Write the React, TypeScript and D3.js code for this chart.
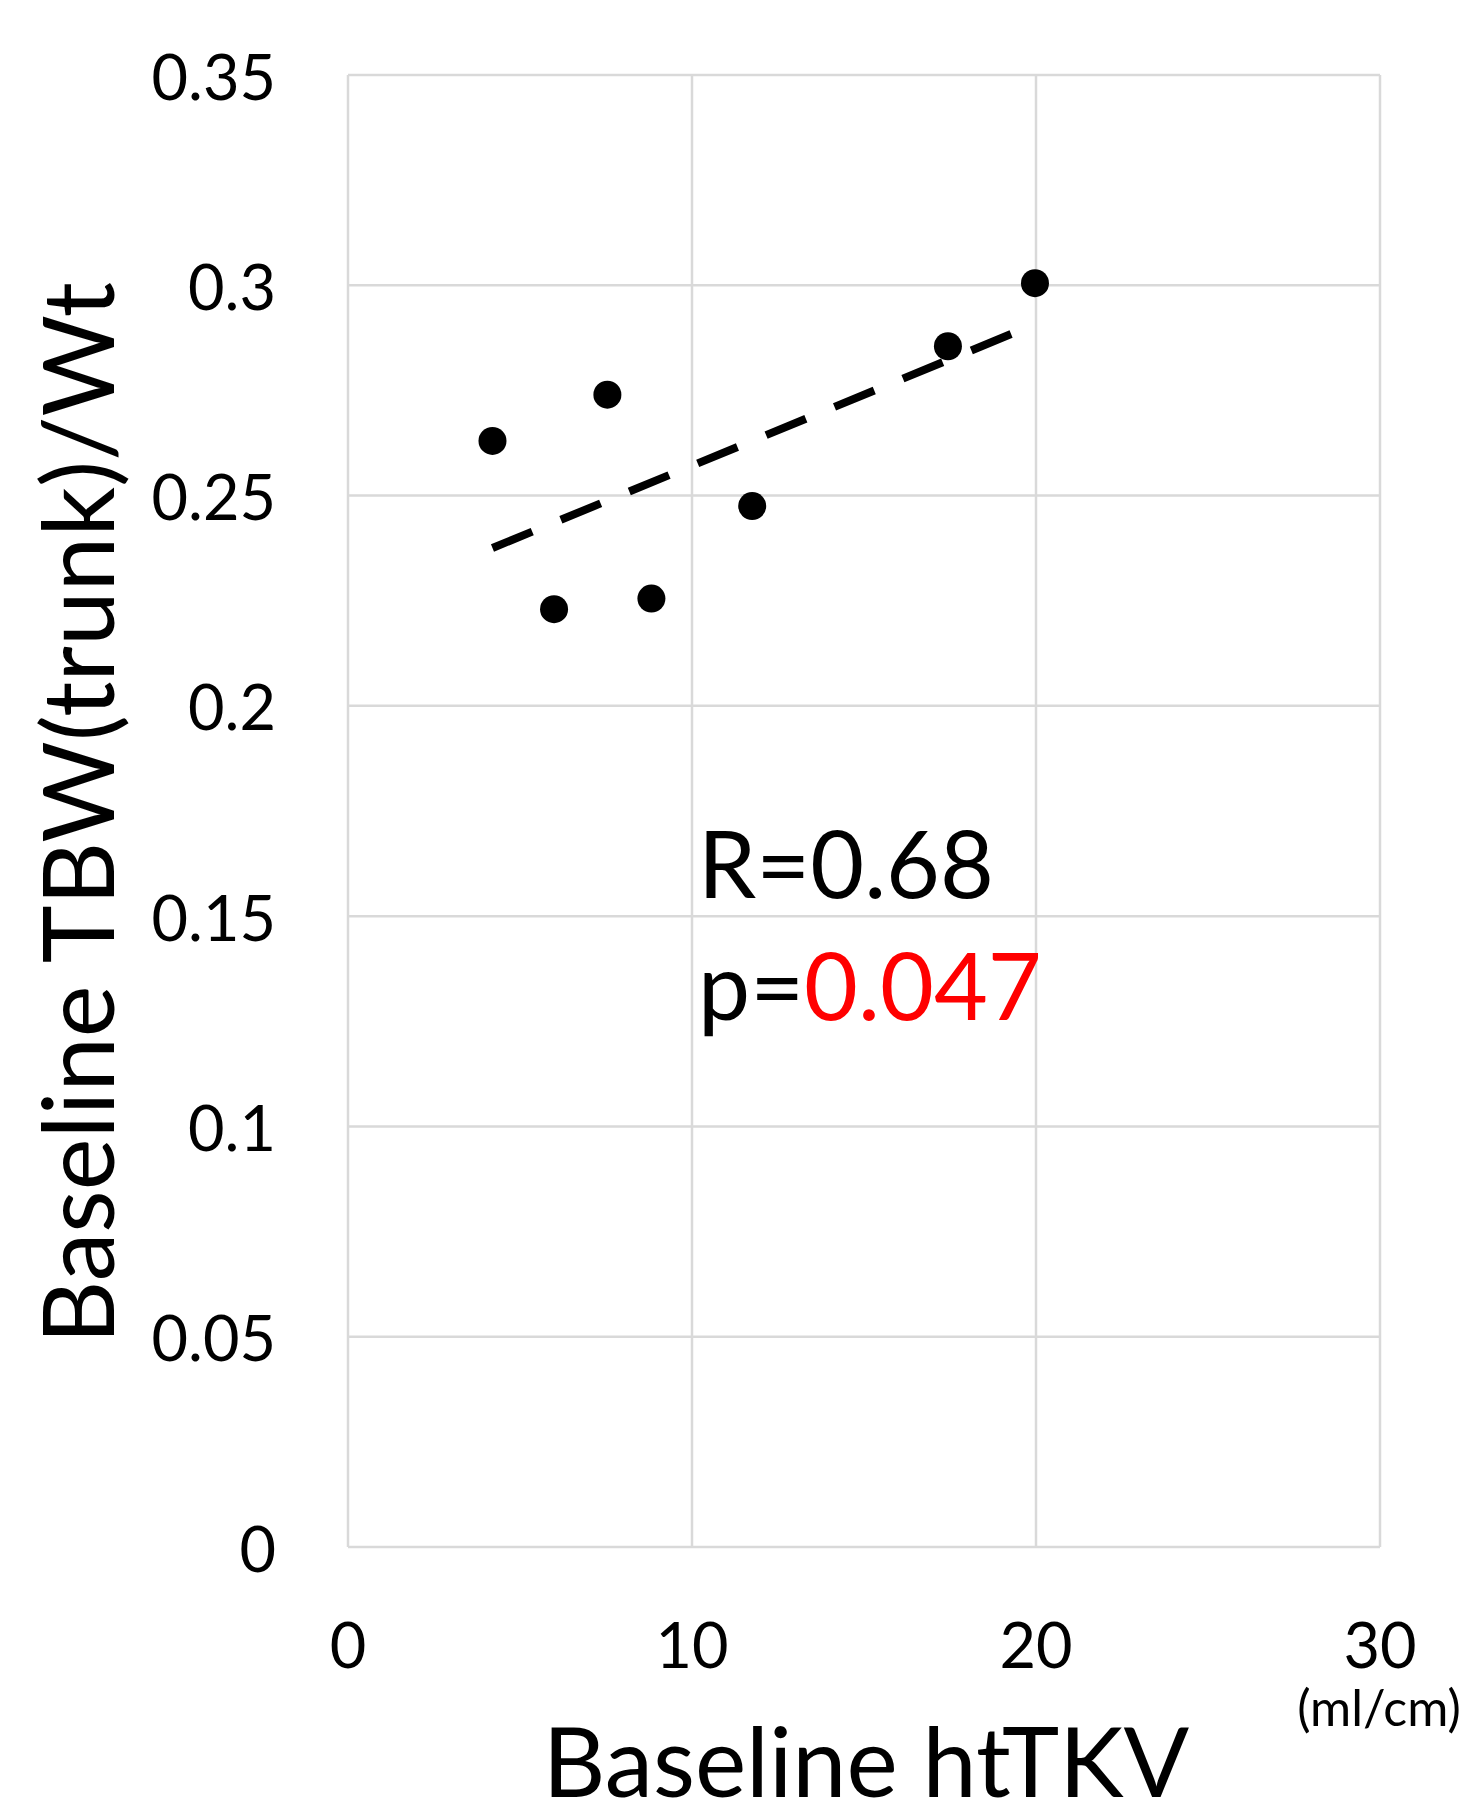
import React from 'react';
import * as d3 from 'd3';

// Baseline htTKV (ml/cm) vs Baseline TBW(trunk)/Wt
const htTKV = [4.2, 7.54, 5.99, 8.82, 11.75, 17.44, 19.97];
const tbwRatio = [0.263, 0.274, 0.223, 0.2255, 0.2475, 0.2855, 0.3005];
const xTicks = [0, 10, 20, 30];
const yTicks = [0, 0.05, 0.1, 0.15, 0.2, 0.25, 0.3, 0.35];
const statR = 'R=0.68';
const statP = '0.047';

const W = 1473;
const H = 1817;
const FONT = 'Lato, Carlito, "Open Sans", sans-serif';

const App = () => {
    // plot area
    const margin = { top: 75, right: 93, bottom: 270, left: 348 };
    const x = d3.scaleLinear().domain([0, 30]).range([margin.left, W - margin.right]);
    const y = d3.scaleLinear().domain([0, 0.35]).range([H - margin.bottom, margin.top]);

    // least squares trendline
    const mx = d3.mean(htTKV) as number;
    const my = d3.mean(tbwRatio) as number;
    const sxy = d3.sum(htTKV, (v, i) => (v - mx) * (tbwRatio[i] - my));
    const sxx = d3.sum(htTKV, v => (v - mx) * (v - mx));
    const slope = sxy / sxx;
    const icpt = my - slope * mx;
    const [x0, x1] = d3.extent(htTKV) as [number, number];
    const trend = d3.line<number>()
        .x(v => x(v))
        .y(v => y(icpt + slope * v))([x0, x1]);

    return (
        <svg width={W} height={H} style={{ position: 'absolute', left: 0, top: 0, background: '#fff' }}
            fontFamily={FONT}>
            {/* grid */}
            {yTicks.map(t => (
                <line key={'gy' + t} x1={x(0)} x2={x(30)} y1={y(t)} y2={y(t)}
                    stroke="#d9d9d9" strokeWidth={2.5} />
            ))}
            {xTicks.map(t => (
                <line key={'gx' + t} x1={x(t)} x2={x(t)} y1={y(0)} y2={y(0.35)}
                    stroke="#d9d9d9" strokeWidth={2.5} />
            ))}

            {/* y tick labels */}
            {yTicks.map(t => (
                <text key={'ty' + t} x={276} y={y(t)} textAnchor="end" dominantBaseline="central"
                    fontSize={63} fill="#000">{String(t)}</text>
            ))}
            {/* x tick labels */}
            {xTicks.map(t => (
                <text key={'tx' + t} x={x(t)} y={1643} textAnchor="middle" dominantBaseline="central"
                    fontSize={63} fill="#000">{t}</text>
            ))}

            {/* trendline */}
            <path d={trend || ''} fill="none" stroke="#000" strokeWidth={8}
                strokeDasharray="43 31" />

            {/* points */}
            {htTKV.map((v, i) => (
                <circle key={'p' + i} cx={x(v)} cy={y(tbwRatio[i])} r={14} fill="#000" />
            ))}

            {/* stats */}
            <text x={698} y={898} fontSize={93} fill="#000">{statR}</text>
            <text x={698} y={1020} fontSize={93} fill="#000">
                p=<tspan fill="#ff0000">{statP}</tspan>
            </text>

            {/* axis titles */}
            <text x={866} y={1797} textAnchor="middle" fontSize={97} fill="#000">Baseline htTKV</text>
            <text x={1379} y={1726} textAnchor="middle" fontSize={50} fill="#000">(ml/cm)</text>
            <text transform={`translate(114,813) rotate(-90)`} textAnchor="middle" fontSize={98} fill="#000">
                Baseline TBW(trunk)/Wt
            </text>
        </svg>
    );
};

export default App;
